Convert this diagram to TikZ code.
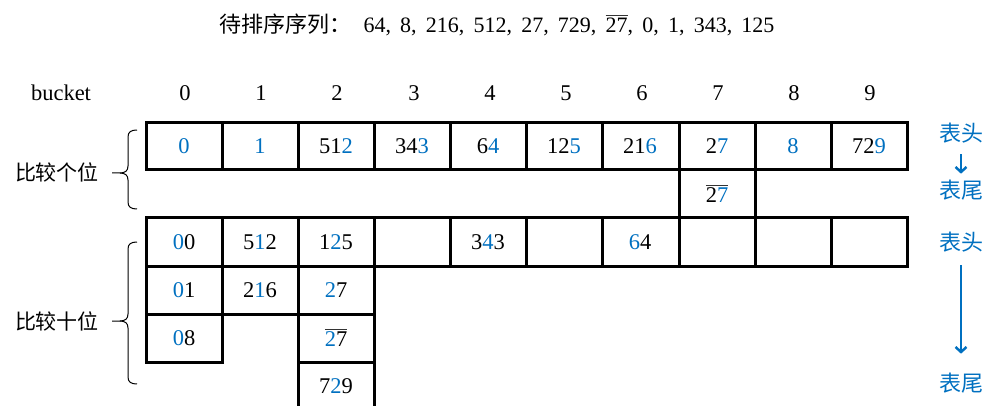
\documentclass[tikz,border=0pt]{standalone}
\usepackage{fontspec}
\setmainfont{Liberation Serif}
\newfontfamily\cjk{Noto Sans CJK SC}
\usetikzlibrary{arrows.meta}
\definecolor{myblue}{RGB}{0,112,192}
\newcommand{\blu}[1]{\textcolor{myblue}{#1}}
\newcommand{\olin}[1]{\setbox0\hbox{#1}\rlap{\textcolor{black!80}{\rule[\dimexpr\ht0+2pt\relax]{\wd0}{0.9pt}}}\box0}

\begin{document}
\begin{tikzpicture}[x=1pt, y=-1pt, every node/.style={font=\fontsize{22.5}{26}\selectfont},
    cell/.style={line width=3pt},
    side/.style={font=\fontsize{21}{25}\selectfont\cjk},
    ends/.style={font=\fontsize{22}{26}\selectfont\cjk, text=myblue, inner sep=1pt},
    flow/.style={-{Straight Barb[length=5pt,width=11pt]}, line width=2.5pt, myblue}]
\useasboundingbox (0,0) rectangle (1004,406);

% title and bucket numbers ---
\node (title) at (497,25) [font=\fontsize{22}{25}\selectfont] {\spaceskip=9.2pt {\cjk 待排序序列：}\hspace{12pt}64, 8, 216, 512, 27, 729, \olin{27}, 0, 1, 343, 125};
\node (bucket) at (61,93) {bucket};
\node (b0) at (185,93) {0};
\node (b1) at (261,93) {1};
\node (b2) at (337,93) {2};
\node (b3) at (414,93) {3};
\node (b4) at (490,93) {4};
\node (b5) at (566,93) {5};
\node (b6) at (642,93) {6};
\node (b7) at (718,93) {7};
\node (b8) at (794,93) {8};
\node (b9) at (870,93) {9};

% first pass: ones digit
\draw [cell] (146,123) rectangle (222,170);
\draw [cell] (222,123) rectangle (298,170);
\draw [cell] (298,123) rectangle (374,170);
\draw [cell] (374,123) rectangle (450,170);
\draw [cell] (450,123) rectangle (526,170);
\draw [cell] (526,123) rectangle (602,170);
\draw [cell] (602,123) rectangle (679,170);
\draw [cell] (679,123) rectangle (755,170);
\draw [cell] (755,123) rectangle (831,170);
\draw [cell] (831,123) rectangle (907,170);
\draw [cell] (679,170) rectangle (755,218);

\node (u0) at (184,146.5) {\blu{0}};
\node (u1) at (260,146.5) {\blu{1}};
\node (u2) at (336,146.5) {51\blu{2}};
\node (u3) at (412,146.5) {34\blu{3}};
\node (u4) at (488,146.5) {6\blu{4}};
\node (u5) at (564,146.5) {12\blu{5}};
\node (u6) at (640,146.5) {21\blu{6}};
\node (u7) at (717,146.5) {2\blu{7}};
\node (u8) at (793,146.5) {\blu{8}};
\node (u9) at (869,146.5) {72\blu{9}};
\node (u7b) at (717,194) {\olin{2\blu{7}}};

% second pass: tens digit
\draw [cell] (146,218) rectangle (222,266);
\draw [cell] (222,218) rectangle (298,266);
\draw [cell] (298,218) rectangle (374,266);
\draw [cell] (374,218) rectangle (450,266);
\draw [cell] (450,218) rectangle (526,266);
\draw [cell] (526,218) rectangle (602,266);
\draw [cell] (602,218) rectangle (679,266);
\draw [cell] (679,218) rectangle (755,266);
\draw [cell] (755,218) rectangle (831,266);
\draw [cell] (831,218) rectangle (907,266);
\draw [cell] (146,266) rectangle (222,314);
\draw [cell] (146,314) rectangle (222,362);
\draw [cell] (222,266) rectangle (298,314);
\draw [cell] (298,266) rectangle (374,314);
\draw [cell] (298,314) rectangle (374,362);
\draw [cell] (298,362) rectangle (374,420);

\node (v00) at (184,242) {\blu{0}0};
\node (v01) at (184,290) {\blu{0}1};
\node (v02) at (184,338) {\blu{0}8};
\node (v10) at (260,242) {5\blu{1}2};
\node (v11) at (260,290) {2\blu{1}6};
\node (v20) at (336,242) {1\blu{2}5};
\node (v21) at (336,290) {\blu{2}7};
\node (v22) at (336,338) {\olin{\blu{2}7}};
\node (v23) at (336,386) {7\blu{2}9};
\node (v40) at (488,242) {3\blu{4}3};
\node (v60) at (640,242) {\blu{6}4};

% left labels with braces
\node (ones) at (57,172) [side] {比较个位};
\node (tens) at (57,321) [side] {比较十位};
\draw [line width=1pt] (137,130) .. controls (131,130) and (128,132) .. (128,137) -- (128,166)
  .. controls (128,171) and (125,173) .. (120,173) -- (112,173);
\draw [line width=1pt] (120,173) .. controls (125,173) and (128,175) .. (128,180) -- (128,202)
  .. controls (128,207) and (131,209) .. (137,209);
\draw [line width=1pt] (137,242) .. controls (131,242) and (128,244) .. (128,249) -- (128,314)
  .. controls (128,319) and (125,321) .. (120,321) -- (112,321);
\draw [line width=1pt] (120,321) .. controls (125,321) and (128,323) .. (128,328) -- (128,377)
  .. controls (128,382) and (131,384) .. (137,384);

% head to tail
\node (head1) at (961,133) [ends] {表头};
\node (tail1) at (961,190) [ends] {表尾};
\node (head2) at (961,242) [ends] {表头};
\node (tail2) at (961,383) [ends] {表尾};
\draw [flow, shorten <=10pt, shorten >=5pt] (head1) -- (tail1);
\draw [flow, shorten <=12pt, shorten >=18pt] (head2) -- (tail2);

\end{tikzpicture}
\end{document}
